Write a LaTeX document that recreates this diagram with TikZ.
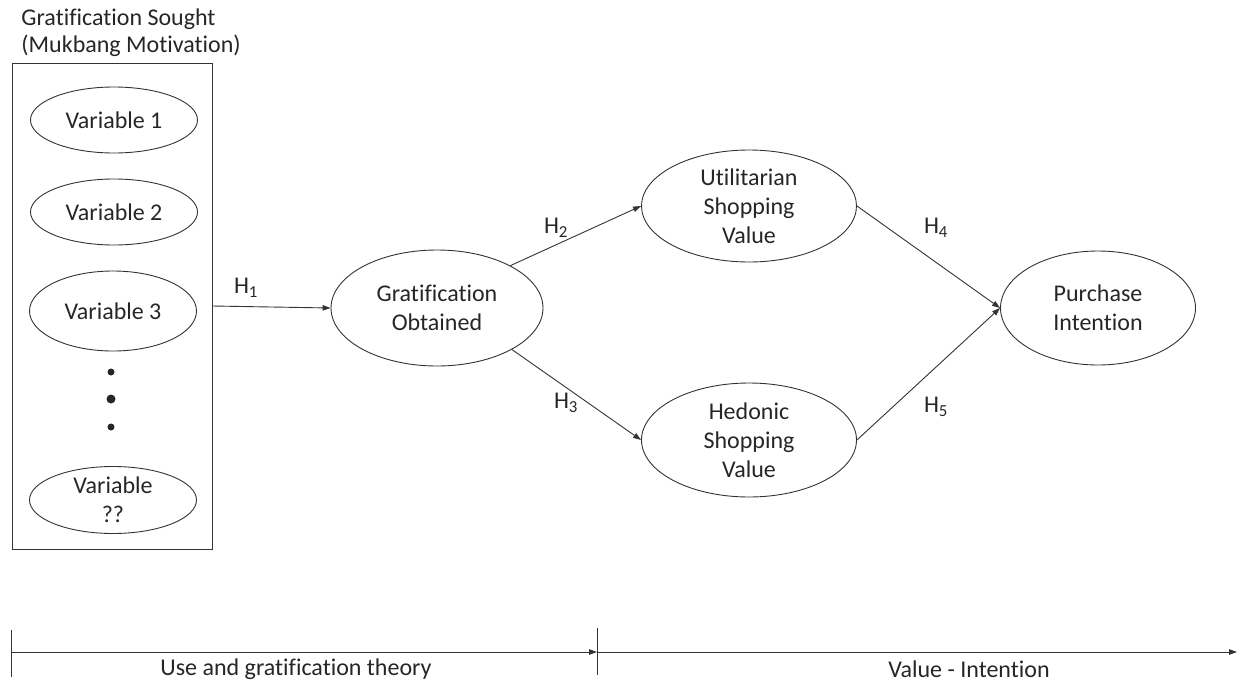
\documentclass[tikz,border=0pt]{standalone}
\usepackage{fontspec}
\setmainfont{Carlito}[Ligatures={NoCommon,NoRequired,NoContextual}]
\usetikzlibrary{shapes.geometric,arrows.meta}

\tikzset{
  var/.style={draw, ellipse, inner sep=0pt, align=center, minimum width=167pt, minimum height=66pt},
  latent/.style={draw, ellipse, inner sep=0pt, align=center, minimum width=212pt, minimum height=116pt},
  hpath/.style={-{Triangle[length=8pt,width=5.5pt]}},
  hlabel/.style={inner sep=0pt}
}

\begin{document}
\begin{tikzpicture}[x=1pt, y=-1pt, line width=0.9pt, draw=black!80, text=black!85,
    every node/.append style={font=\fontsize{24}{29}\selectfont}]
        \useasboundingbox (0,0) rectangle (1243,683);

        \node[anchor=north west, align=left, inner sep=0pt, font=\fontsize{24}{27}\selectfont] (sought) at (21,8) {Gratification Sought\\(Mukbang Motivation)};
        \node[draw, minimum width=200pt, minimum height=486pt, inner sep=0pt] (box) at (112,306) {};

        \node[var] (v1) at (114,120) {Variable 1};
        \node[var] (v2) at (114,212) {Variable 2};
        \node[var, minimum height=80pt] (v3) at (113,311) {Variable 3};
        \node[var, minimum height=67pt] (vn) at (113,500) {Variable\\??};
        \foreach \y/\r in {372/3.5, 399/4.5, 427/3.5}
            \fill[black!85] (111,\y) circle (\r pt);

        \node[latent] (go) at (437,308) {Gratification\\Obtained};
        \node[latent, minimum width=215pt, minimum height=112pt] (usv) at (749,206) {Utilitarian\\Shopping\\Value};
        \node[latent, minimum width=215pt, minimum height=114pt] (hsv) at (749,440) {Hedonic\\Shopping\\Value};
        \node[latent, minimum width=195pt, minimum height=114pt] (pi) at (1098,308) {Purchase\\Intention};

        \draw[hpath] (box.east) -- (go.west);
        \draw[hpath] (go.30) -- (usv.west);
        \draw[hpath] (go.331) -- (hsv.west);
        \draw[hpath] (usv.east) -- (pi.west);
        \draw[hpath] (hsv.east) -- (pi.west);

        \node[hlabel] (h1) at (246,288) {H\textsubscript{1}};
        \node[hlabel] (h2) at (556,228) {H\textsubscript{2}};
        \node[hlabel] (h3) at (566,403) {H\textsubscript{3}};
        \node[hlabel] (h4) at (936,228) {H\textsubscript{4}};
        \node[hlabel] (h5) at (936,407) {H\textsubscript{5}};

        \coordinate (tl) at (11,652);
        \coordinate (tm) at (597,652);
        \coordinate (tr) at (1237,652);
        \draw[hpath] (tl) -- (tm);
        \draw[hpath] (tm) -- (tr);
        \draw ([yshift=22pt]tl) -- ([yshift=-25pt]tl);
        \draw ([yshift=24pt]tm) -- ([yshift=-23pt]tm);

        \node (ugt) at (296,669) {Use and gratification theory};
        \node (vi) at (969,669) {Value - Intention};
    \end{tikzpicture}
\end{document}
